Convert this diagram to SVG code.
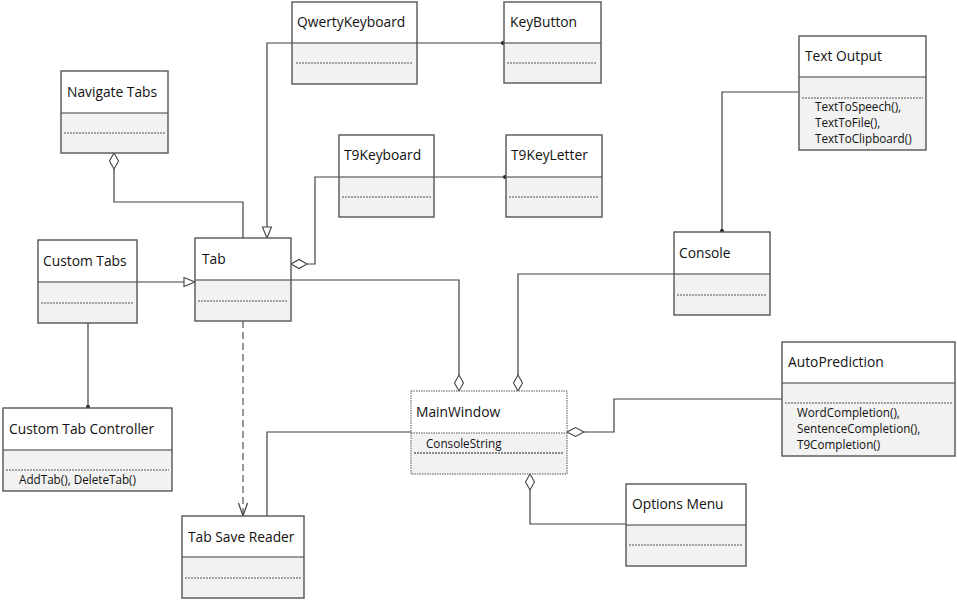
<svg xmlns="http://www.w3.org/2000/svg" width="957" height="600" viewBox="0 0 957 600">
<style>
.top{fill:#ffffff;stroke:none}
.bot{fill:#f2f2f2;stroke:none}
.frame{fill:none;stroke:#555555;stroke-width:1.4}
.div{stroke:#3a3a3a;stroke-width:1.2}
.dash{stroke:#555555;stroke-width:1;stroke-dasharray:2 1}
.title{font-family:"Open Sans","Noto Sans",sans-serif;font-size:13.8px;fill:#111111}
.meth{font-family:"Open Sans","Noto Sans",sans-serif;font-size:11.7px;fill:#111111}
.ln{fill:none;stroke:#404040;stroke-width:1.2}
.dl{fill:none;stroke:#555555;stroke-width:1.2;stroke-dasharray:7 4}
.dia{fill:#ffffff;stroke:#404040;stroke-width:1.1}
.tri{fill:#ffffff;stroke:#404040;stroke-width:1.1}
.dot{fill:#222222}
</style>
<rect width="957" height="600" fill="#ffffff"/>

<g id="connectors">
  <!-- Qwerty -> Tab generalization -->
  <path class="ln" d="M292,43 H267 V227"/>
  <polygon class="tri" points="267,238 262.5,227 271.5,227"/>
  <!-- Qwerty -> KeyButton -->
  <path class="ln" d="M417,43 H504"/>
  <circle class="dot" cx="503" cy="43" r="2"/>
  <!-- Navigate Tabs aggregation -->
  <path class="ln" d="M114,169 V202 H243 V238"/>
  <polygon class="dia" points="114,153 118.5,161 114,169 109.5,161"/>
  <!-- Custom Tabs -> Tab -->
  <path class="ln" d="M137,282 H184"/>
  <polygon class="tri" points="195,282 184,277.5 184,286.5"/>
  <!-- Custom Tabs -> Custom Tab Controller -->
  <path class="ln" d="M88,323 V408"/>
  <circle class="dot" cx="88" cy="407" r="2"/>
  <!-- T9Keyboard -> Tab aggregation -->
  <path class="ln" d="M307,264 H315 V177 H339"/>
  <polygon class="dia" points="291,264 299,259.5 307,264 299,268.5"/>
  <!-- T9Keyboard -> T9KeyLetter -->
  <path class="ln" d="M434,177 H506"/>
  <circle class="dot" cx="505" cy="177" r="2"/>
  <!-- Tab -> MainWindow -->
  <path class="ln" d="M291,280 H459 V375"/>
  <polygon class="dia" points="459,375 463.5,383 459,391 454.5,383"/>
  <!-- Console -> MainWindow -->
  <path class="ln" d="M674,274 H518 V375"/>
  <polygon class="dia" points="518,375 522.5,383 518,391 513.5,383"/>
  <!-- Text Output -> Console -->
  <path class="ln" d="M799,92 H722 V232"/>
  <circle class="dot" cx="722" cy="231" r="2"/>
  <!-- MainWindow -> Tab Save Reader -->
  <path class="ln" d="M411,432 H267 V516"/>
  <!-- Tab -> Tab Save Reader dependency -->
  <path class="dl" d="M243,321 V515"/>
  <path class="ln" d="M238.5,503 L243,516 L247.5,503"/>
  <!-- AutoPrediction -> MainWindow -->
  <path class="ln" d="M782,399 H614 V432 H584"/>
  <polygon class="dia" points="567,432 575.5,427.5 584,432 575.5,436.5"/>
  <!-- MainWindow -> Options Menu -->
  <path class="ln" d="M530,490 V524 H626"/>
  <polygon class="dia" points="530,474 534.5,482 530,490 525.5,482"/>
</g>

<g id="qwerty">
  <rect class="top" x="292" y="2" width="125" height="41"/>
  <rect class="bot" x="292" y="43" width="125" height="41"/>
  <line class="div" x1="292" y1="43" x2="417" y2="43"/>
  <line class="dash" x1="296" y1="63" x2="413" y2="63"/>
  <rect class="frame" x="292" y="2" width="125" height="82"/>
  <text class="title" x="297" y="27">QwertyKeyboard</text>
</g>

<g id="keybutton">
  <rect class="top" x="504" y="2" width="97" height="41"/>
  <rect class="bot" x="504" y="43" width="97" height="40"/>
  <line class="div" x1="504" y1="43" x2="601" y2="43"/>
  <line class="dash" x1="507" y1="63" x2="597" y2="63"/>
  <rect class="frame" x="504" y="2" width="97" height="81"/>
  <text class="title" x="510" y="27">KeyButton</text>
</g>

<g id="navigate">
  <rect class="top" x="61" y="71" width="107" height="42"/>
  <rect class="bot" x="61" y="113" width="107" height="40"/>
  <line class="div" x1="61" y1="113" x2="168" y2="113"/>
  <line class="dash" x1="64" y1="133" x2="165" y2="133"/>
  <rect class="frame" x="61" y="71" width="107" height="82"/>
  <text class="title" x="67" y="97">Navigate Tabs</text>
</g>

<g id="tab">
  <rect class="top" x="195" y="238" width="96" height="42"/>
  <rect class="bot" x="195" y="280" width="96" height="41"/>
  <line class="div" x1="195" y1="280" x2="291" y2="280"/>
  <line class="dash" x1="198" y1="301" x2="288" y2="301"/>
  <rect class="frame" x="195" y="238" width="96" height="83"/>
  <text class="title" x="202" y="264">Tab</text>
</g>

<g id="customtabs">
  <rect class="top" x="38" y="240" width="99" height="42"/>
  <rect class="bot" x="38" y="282" width="99" height="41"/>
  <line class="div" x1="38" y1="282" x2="137" y2="282"/>
  <line class="dash" x1="41" y1="303" x2="134" y2="303"/>
  <rect class="frame" x="38" y="240" width="99" height="83"/>
  <text class="title" x="43" y="266">Custom Tabs</text>
</g>

<g id="customtabcontroller">
  <rect class="top" x="3" y="408" width="169" height="42"/>
  <rect class="bot" x="3" y="450" width="169" height="41"/>
  <line class="div" x1="3" y1="450" x2="172" y2="450"/>
  <line class="dash" x1="6" y1="470" x2="169" y2="470"/>
  <rect class="frame" x="3" y="408" width="169" height="83"/>
  <text class="title" x="9" y="434">Custom Tab Controller</text>
  <text class="meth" x="19" y="484">AddTab(), DeleteTab()</text>
</g>

<g id="t9keyboard">
  <rect class="top" x="339" y="135" width="95" height="42"/>
  <rect class="bot" x="339" y="177" width="95" height="40"/>
  <line class="div" x1="339" y1="177" x2="434" y2="177"/>
  <line class="dash" x1="342" y1="197" x2="431" y2="197"/>
  <rect class="frame" x="339" y="135" width="95" height="82"/>
  <text class="title" x="344" y="160">T9Keyboard</text>
</g>

<g id="t9keyletter">
  <rect class="top" x="506" y="135" width="96" height="42"/>
  <rect class="bot" x="506" y="177" width="96" height="40"/>
  <line class="div" x1="506" y1="177" x2="602" y2="177"/>
  <line class="dash" x1="509" y1="197" x2="599" y2="197"/>
  <rect class="frame" x="506" y="135" width="96" height="82"/>
  <text class="title" x="511" y="160">T9KeyLetter</text>
</g>

<g id="textoutput">
  <rect class="top" x="799" y="36" width="127" height="41"/>
  <rect class="bot" x="799" y="77" width="127" height="73"/>
  <line class="div" x1="799" y1="77" x2="926" y2="77"/>
  <line class="dash" x1="802" y1="98" x2="923" y2="98"/>
  <rect class="frame" x="799" y="36" width="127" height="114"/>
  <text class="title" x="805" y="61">Text Output</text>
  <text class="meth" x="815" y="111">TextToSpeech(),</text>
  <text class="meth" x="815" y="127">TextToFile(),</text>
  <text class="meth" x="815" y="143">TextToClipboard()</text>
</g>

<g id="console">
  <rect class="top" x="674" y="232" width="96" height="42"/>
  <rect class="bot" x="674" y="274" width="96" height="41"/>
  <line class="div" x1="674" y1="274" x2="770" y2="274"/>
  <line class="dash" x1="677" y1="295" x2="767" y2="295"/>
  <rect class="frame" x="674" y="232" width="96" height="83"/>
  <text class="title" x="679" y="258">Console</text>
</g>

<g id="mainwindow">
  <rect class="top" x="411" y="391" width="156" height="42"/>
  <rect class="bot" x="411" y="433" width="156" height="41"/>
  <line x1="411" y1="433" x2="567" y2="433" stroke="#555555" stroke-width="1" stroke-dasharray="1.5 1"/>
  <line class="dash" x1="414" y1="453" x2="563" y2="453" style="stroke:#222222"/>
  <rect x="411" y="391" width="156" height="83" fill="none" stroke="#555555" stroke-width="1" stroke-dasharray="1.5 1"/>
  <text class="title" x="416" y="417">MainWindow</text>
  <text class="meth" x="426" y="448">ConsoleString</text>
</g>

<g id="tabsavereader">
  <rect class="top" x="182" y="516" width="122" height="41"/>
  <rect class="bot" x="182" y="557" width="122" height="41"/>
  <line class="div" x1="182" y1="557" x2="304" y2="557"/>
  <line class="dash" x1="185" y1="578" x2="301" y2="578"/>
  <rect class="frame" x="182" y="516" width="122" height="82"/>
  <text class="title" x="188" y="542">Tab Save Reader</text>
</g>

<g id="optionsmenu">
  <rect class="top" x="626" y="484" width="120" height="41"/>
  <rect class="bot" x="626" y="525" width="120" height="41"/>
  <line class="div" x1="626" y1="525" x2="746" y2="525"/>
  <line class="dash" x1="629" y1="545" x2="743" y2="545"/>
  <rect class="frame" x="626" y="484" width="120" height="82"/>
  <text class="title" x="632" y="509">Options Menu</text>
</g>

<g id="autoprediction">
  <rect class="top" x="782" y="342" width="173" height="41"/>
  <rect class="bot" x="782" y="383" width="173" height="73"/>
  <line class="div" x1="782" y1="383" x2="955" y2="383"/>
  <line class="dash" x1="785" y1="403" x2="952" y2="403"/>
  <rect class="frame" x="782" y="342" width="173" height="114"/>
  <text class="title" x="788" y="367">AutoPrediction</text>
  <text class="meth" x="797" y="417">WordCompletion(),</text>
  <text class="meth" x="797" y="433">SentenceCompletion(),</text>
  <text class="meth" x="797" y="449">T9Completion()</text>
</g>
</svg>
